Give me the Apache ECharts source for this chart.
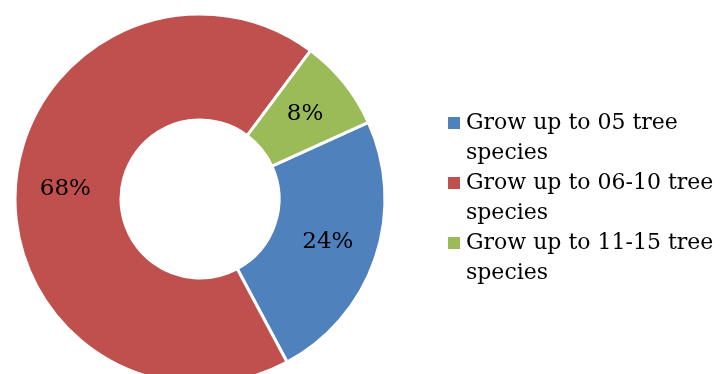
<!DOCTYPE html>
<html>
<head>
<meta charset="utf-8">
<script src="https://cdn.jsdelivr.net/npm/echarts@6/dist/echarts.min.js"></script>
<style>
  html, body { margin: 0; padding: 0; background: #fff; }
  #chart { width: 723px; height: 374px; }
</style>
</head>
<body>
<div id="chart"></div>
<script>
const categories = ['Grow up to 05 tree species', 'Grow up to 06-10 tree species', 'Grow up to 11-15 tree species'];
const shares = [24, 68, 8];
const colors = ['#4F81BD', '#C0504D', '#9BBB59'];

const font = 'DejaVu Serif';
const data = categories.map(function (name, i) {
  return { name: name, value: shares[i], itemStyle: { color: colors[i] } };
});

let chart = echarts.init(document.getElementById('chart'));
let option = {
  backgroundColor: '#fff',
  animation: false,
  legend: {
    orient: 'vertical',
    left: 446,
    top: 78,
    padding: 0,
    itemWidth: 14,
    itemHeight: 14,
    itemGap: -30,
    icon: 'rect',
    // wrap like the original legend box; blank first line keeps the icon on line one
    formatter: function (name) {
      return '\n' + name.replace(' species', '\nspecies');
    },
    textStyle: {
      fontFamily: font,
      fontSize: 22,
      lineHeight: 30,
      color: '#000'
    }
  },
  series: [
    {
      type: 'pie',
      center: [200, 199],
      radius: [79, 185],
      startAngle: 24.5,
      clockwise: true,
      data: data,
      itemStyle: {
        borderColor: '#fff',
        borderWidth: 3
      },
      label: {
        position: 'inside',
        formatter: '{c}%',
        fontFamily: font,
        fontSize: 23,
        color: '#000'
      },
      labelLine: { show: false },
      emphasis: { disabled: true }
    }
  ]
};
chart.setOption(option, true);
window.addEventListener('resize', function () {
  chart.resize();
});
</script>
</body>
</html>
